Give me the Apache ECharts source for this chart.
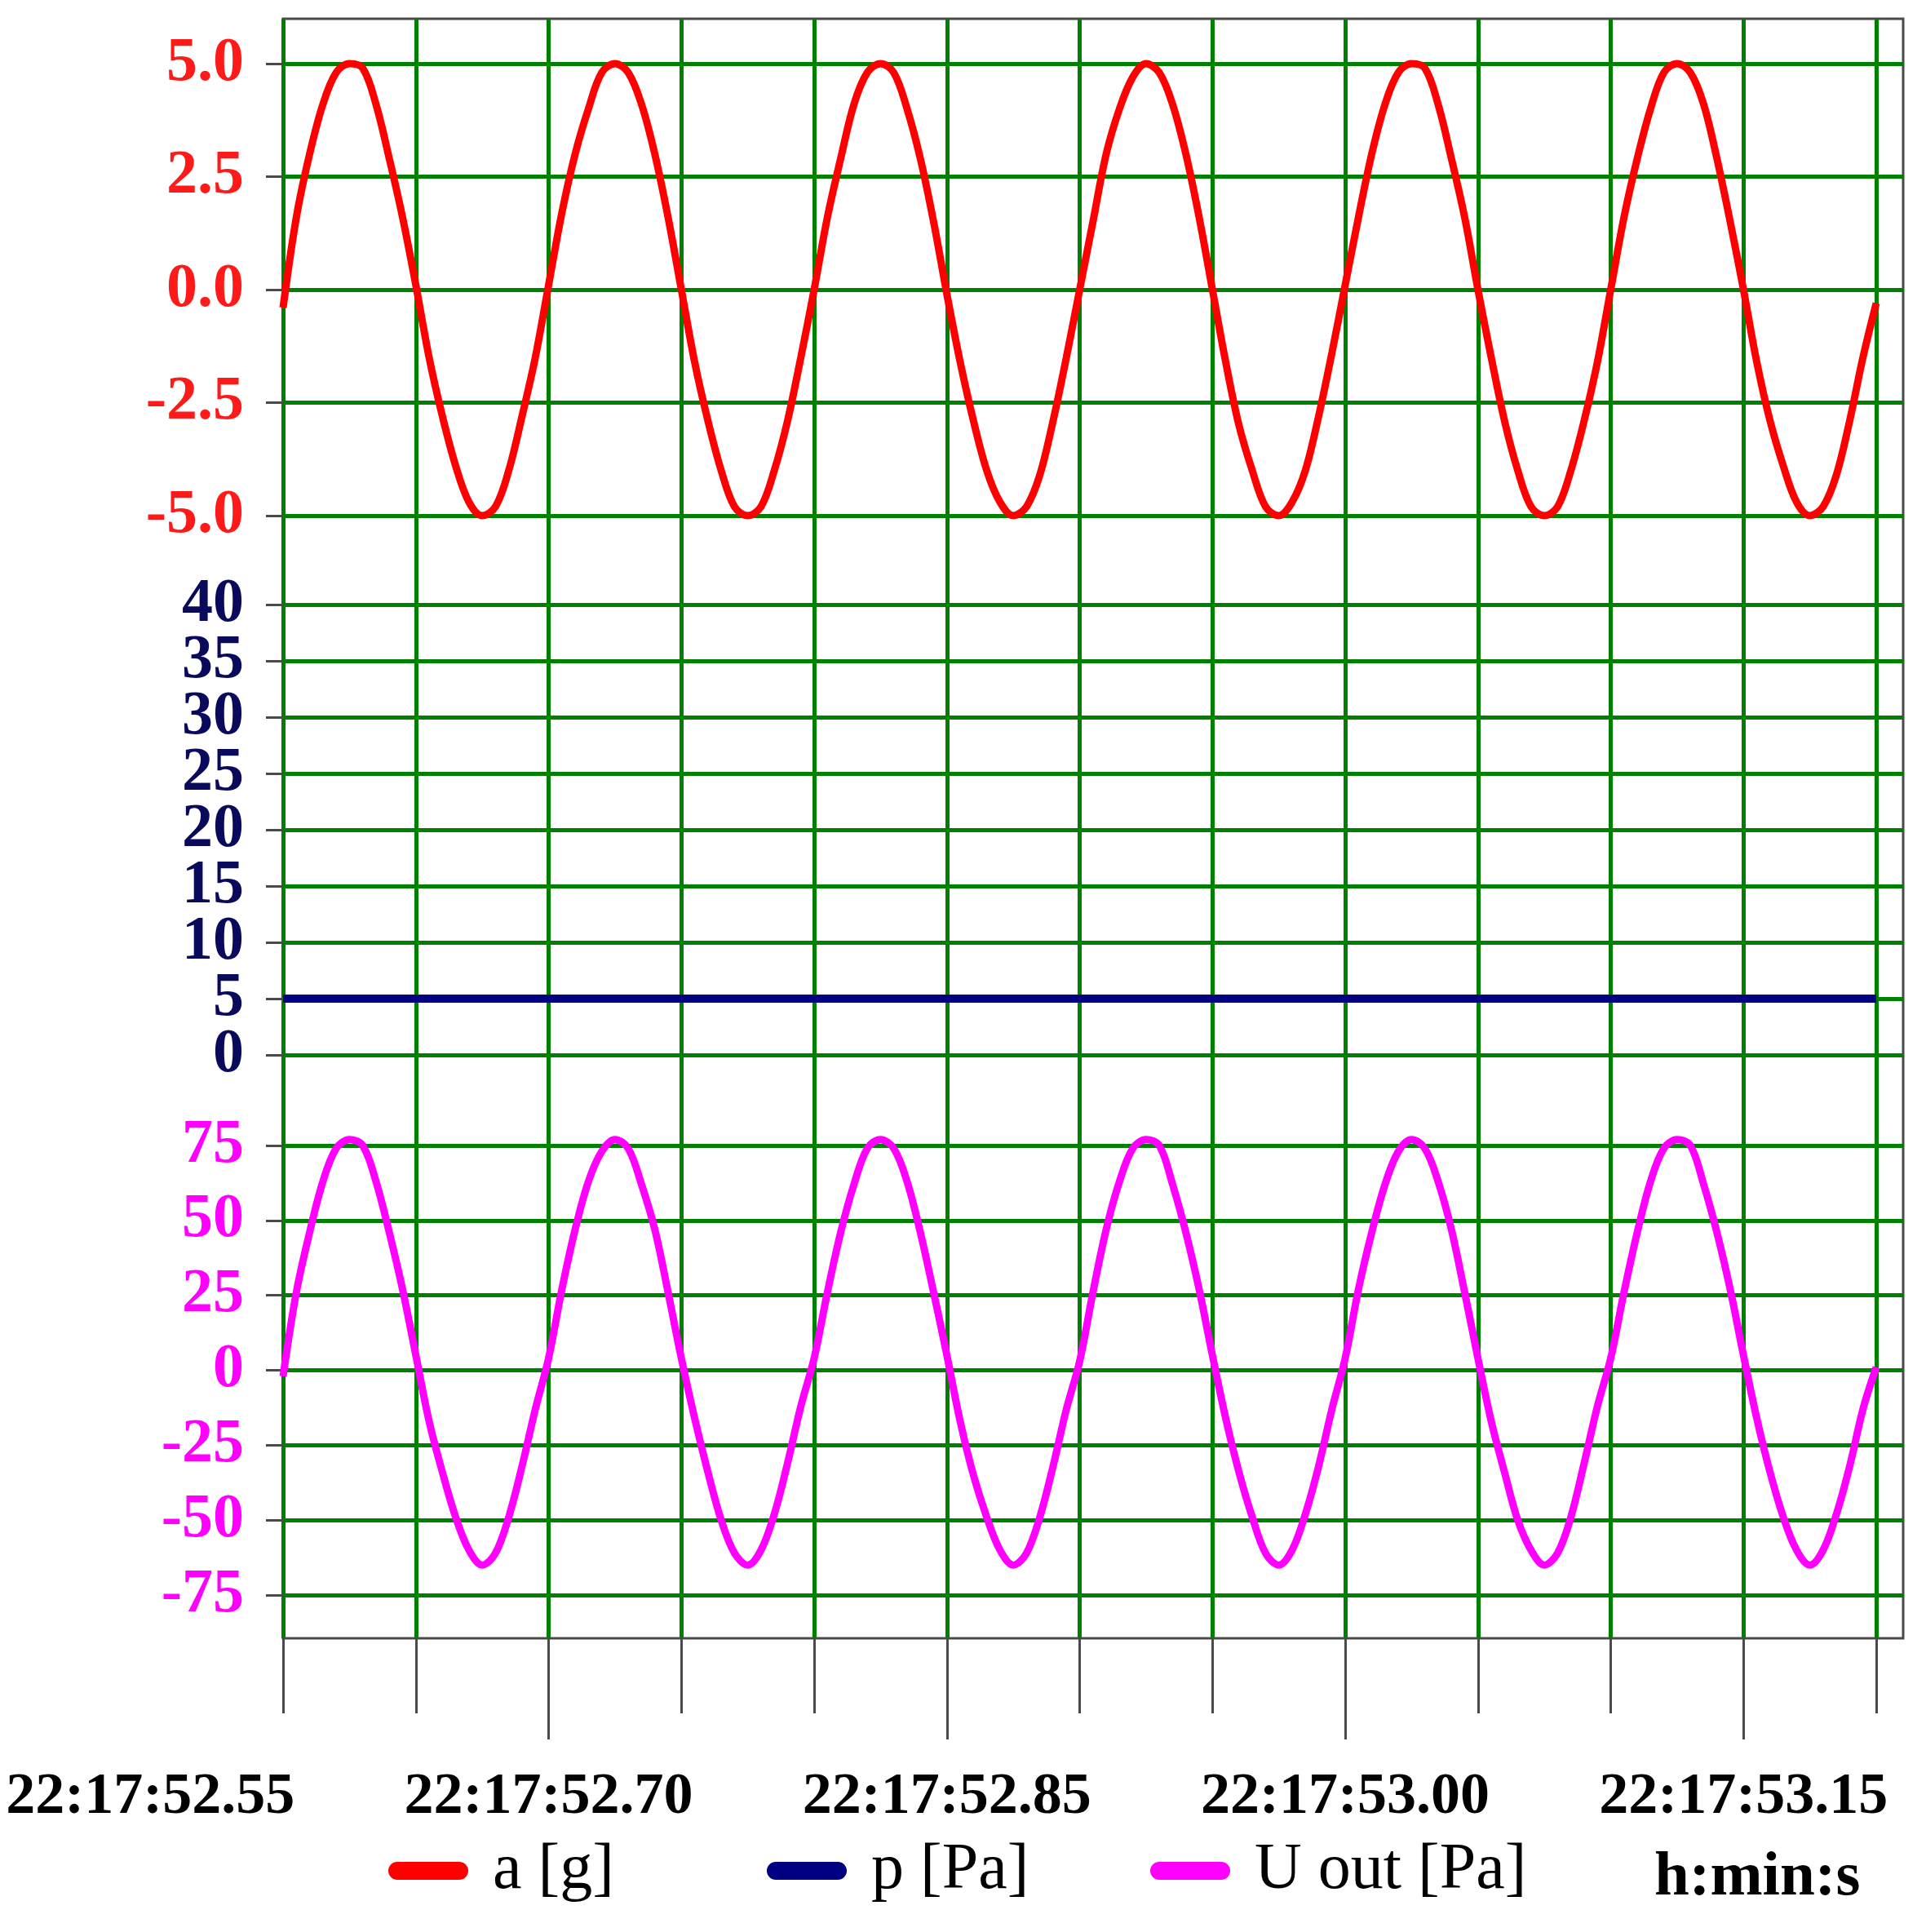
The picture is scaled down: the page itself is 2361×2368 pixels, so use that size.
<!DOCTYPE html>
<html>
<head>
<meta charset="utf-8">
<script src="https://cdn.jsdelivr.net/npm/echarts@6/dist/echarts.min.js"></script>
<style>
html,body{margin:0;padding:0;background:#fff;}
#chart{width:2361px;height:2368px;}
</style>
</head>
<body>
<div id="chart"></div>
<script>
// time of each sample, in ms after 22:17:52.55
const times = [50,55,60,65,70,75,80,85,90,95,100,105,110,115,120,125,130,135,140,145,
  150,155,160,165,170,175,180,185,190,195,200,205,210,215,220,225,230,235,240,245,
  250,255,260,265,270,275,280,285,290,295,300,305,310,315,320,325,330,335,340,345,
  350,355,360,365,370,375,380,385,390,395,400,405,410,415,420,425,430,435,440,445,
  450,455,460,465,470,475,480,485,490,495,500,505,510,515,520,525,530,535,540,545,
  550,555,560,565,570,575,580,585,590,595,600,605,610,615,620,625,630,635,640,645,650];

// a [g]
const aValues = [-0.4,1.6,3.0,4.1,4.8,5.0,4.9,4.1,2.9,1.6,0.1,-1.5,-2.8,-3.9,-4.7,-5.0,-4.8,-4.0,-2.8,-1.5,
  0.1,1.7,3.0,4.0,4.8,5.0,4.8,4.1,3.0,1.6,0.0,-1.6,-2.9,-4.0,-4.8,-5.0,-4.8,-4.0,-2.9,-1.5,
  0.0,1.6,2.9,4.1,4.8,5.0,4.8,4.0,2.9,1.5,-0.1,-1.6,-2.9,-4.0,-4.7,-5.0,-4.8,-4.1,-2.9,-1.5,
  0.0,1.5,3.0,4.0,4.7,5.0,4.8,4.1,3.0,1.6,0.0,-1.6,-3.0,-4.0,-4.8,-5.0,-4.7,-4.0,-2.8,-1.4,
  0.1,1.6,3.0,4.1,4.8,5.0,4.9,4.1,2.9,1.6,0.0,-1.5,-2.9,-4.0,-4.8,-5.0,-4.8,-4.0,-2.9,-1.6,
  0.0,1.6,2.9,4.0,4.8,5.0,4.8,4.1,2.9,1.5,0.0,-1.6,-2.9,-3.9,-4.7,-5.0,-4.8,-4.1,-2.9,-1.5,-0.3];

// p [Pa]
const pValues = [5,5,5,5,5,5,5,5,5,5,5,5,5,5,5,5,5,5,5,5,
  5,5,5,5,5,5,5,5,5,5,5,5,5,5,5,5,5,5,5,5,
  5,5,5,5,5,5,5,5,5,5,5,5,5,5,5,5,5,5,5,5,
  5,5,5,5,5,5,5,5,5,5,5,5,5,5,5,5,5,5,5,5,
  5,5,5,5,5,5,5,5,5,5,5,5,5,5,5,5,5,5,5,5,
  5,5,5,5,5,5,5,5,5,5,5,5,5,5,5,5,5,5,5,5,5];

// U out [Pa]
const uValues = [-2,26,46,63,74,77,75,63,46,27,5,-17,-34,-49,-60,-65,-61,-49,-32,-13,
  4,27,47,63,73,77,74,62,47,26,4,-16,-34,-50,-61,-65,-60,-48,-31,-12,
  4,26,46,62,74,77,74,63,46,26,5,-17,-35,-49,-60,-65,-61,-49,-32,-13,
  3,26,47,63,74,77,75,62,46,27,5,-16,-34,-49,-61,-65,-60,-48,-32,-13,
  4,27,46,62,73,77,74,63,47,26,4,-17,-34,-50,-60,-65,-61,-49,-31,-12,
  4,26,46,63,74,77,75,62,46,27,5,-16,-34,-49,-60,-65,-60,-48,-32,-13,1];

const seriesNames = ['a [g]', 'p [Pa]', 'U out [Pa]'];
const timeUnitLabel = 'h:min:s';
const labelBaseSeconds = 52.55; // label time base: 22:17:52.55

const zip = (xs, ys) => xs.map((x, i) => [x, ys[i]]);

const GREEN = '#008000';
const TICKC = '#4a4a4a';
const SERIF = "'Liberation Serif','DejaVu Serif',serif";
const pxPerMs = 3.255;
const L0 = 347;            // x of t=50
const FRAME_R = 2333;
const TOP = 23, BOT = 2008;
const tMaxFrame = 50 + (FRAME_R - L0) / pxPerMs;

const noOB = {outerBoundsMode: 'none', containLabel: false};

const grids = [
  // 0 frame
  Object.assign({left: L0, top: TOP, width: FRAME_R - L0, height: BOT - TOP, show: true,
    borderColor: TICKC, borderWidth: 3, backgroundColor: 'transparent'}, noOB),
  // 1 vertical grid lines + short ticks
  Object.assign({left: L0, top: TOP, width: 600 * pxPerMs, height: BOT - TOP}, noOB),
  // 2 long ticks
  Object.assign({left: L0 + 100 * pxPerMs, top: TOP, width: 450 * pxPerMs, height: BOT - TOP}, noOB),
  // 3 time labels
  Object.assign({left: L0 - 50 * pxPerMs, top: TOP, width: 600 * pxPerMs, height: BOT - TOP}, noOB),
  // 4 a panel
  Object.assign({left: L0, top: 78, width: FRAME_R - L0, height: 632 - 78}, noOB),
  // 5 p panel
  Object.assign({left: L0, top: 741, width: FRAME_R - L0, height: 1293 - 741}, noOB),
  // 6 U panel
  Object.assign({left: L0, top: 1404, width: FRAME_R - L0, height: 1955 - 1404}, noOB)
];

const hiddenY = (g) => ({gridIndex: g, type: 'value', show: false, min: 0, max: 1});
const hiddenX = (g) => ({gridIndex: g, type: 'value', show: false, min: 50, max: tMaxFrame});

const xAxes = [
  hiddenX(0),
  {gridIndex: 1, type: 'value', min: 50, max: 650, interval: 50, position: 'bottom',
    axisLine: {show: false}, axisTick: {show: true, length: 92, lineStyle: {color: TICKC, width: 3}},
    axisLabel: {show: false}, splitLine: {show: true, lineStyle: {color: GREEN, width: 5}}},
  {gridIndex: 2, type: 'value', min: 150, max: 600, interval: 150, position: 'bottom',
    axisLine: {show: false}, axisTick: {show: true, length: 124, lineStyle: {color: TICKC, width: 3}},
    axisLabel: {show: false}, splitLine: {show: false}},
  {gridIndex: 3, type: 'value', min: 0, max: 600, interval: 150, position: 'bottom',
    axisLine: {show: false}, axisTick: {show: false}, splitLine: {show: false},
    axisLabel: {show: true, showMinLabel: true, showMaxLabel: true, margin: 159, color: '#000',
      fontSize: 72, fontWeight: 'bold', fontFamily: SERIF,
      formatter: (v) => '22:17:' + (labelBaseSeconds + v / 1000).toFixed(2)}},
  hiddenX(4), hiddenX(5), hiddenX(6)
];

const yLabel = (color, fmt, showEnds) => ({show: true, showMinLabel: showEnds, showMaxLabel: showEnds,
  hideOverlap: false, margin: 48, color: color, fontSize: 76, fontWeight: 'bold', fontFamily: SERIF, formatter: fmt});
const yTick = {show: true, length: 21, lineStyle: {color: TICKC, width: 3}};
const yCommon = {type: 'value', position: 'left', offset: 0, axisLine: {show: false},
  axisTick: yTick, splitLine: {show: true, lineStyle: {color: GREEN, width: 5}}};

const intFmt = (v) => String(Math.round(v));
const yAxes = [
  hiddenY(0), hiddenY(1), hiddenY(2), hiddenY(3),
  // 4: a
  Object.assign({gridIndex: 4, min: -5, max: 5, interval: 2.5,
    axisLabel: yLabel('#ff1a1a', (v) => v.toFixed(1), true)}, yCommon),
  // 5: p (inner ticks; end labels come from axis 7)
  Object.assign({gridIndex: 5, min: 0, max: 40, interval: 5,
    axisLabel: yLabel('#0a0a5c', intFmt, false)}, yCommon),
  // 6: U out
  Object.assign({gridIndex: 6, min: -75, max: 75, interval: 25,
    axisLabel: yLabel('#ff00ff', intFmt, true)}, yCommon),
  // 7: p end labels (0 and 40)
  {gridIndex: 5, type: 'value', position: 'left', offset: 0, min: 0, max: 40, interval: 40,
    axisLine: {show: false}, axisTick: yTick, splitLine: {show: false},
    axisLabel: yLabel('#0a0a5c', intFmt, true)}
];

const lineSeries = (name, xi, yi, data, color, width) => ({
  name: name, type: 'line', xAxisIndex: xi, yAxisIndex: yi, data: data,
  showSymbol: false, symbol: 'none', smooth: 0.35, clip: false, z: 5,
  lineStyle: {color: color, width: width}, itemStyle: {color: color}
});

const pill = 'path://M11,0H87A11,11,0,0,1,87,22H11A11,11,0,0,1,11,0Z';
const legendAt = (name, left) => ({
  data: [name], left: left, top: 2253, padding: 0, orient: 'horizontal',
  icon: pill, itemWidth: 98, itemHeight: 22, selectedMode: false,
  itemStyle: {borderWidth: 0},
  textStyle: {fontSize: 80, fontFamily: SERIF, color: '#000', padding: [0, 0, 0, 25]}
});

const option = {
  animation: false,
  backgroundColor: '#fff',
  grid: grids,
  xAxis: xAxes,
  yAxis: yAxes,
  title: {text: timeUnitLabel, left: 2028, top: 2264, padding: 0,
    textStyle: {fontSize: 77, fontWeight: 'bold', fontFamily: SERIF, color: '#000'}},
  legend: [legendAt(seriesNames[0], 476), legendAt(seriesNames[1], 940), legendAt(seriesNames[2], 1410)],
  series: [
    lineSeries(seriesNames[0], 4, 4, zip(times, aValues), '#ff0000', 9),
    lineSeries(seriesNames[1], 5, 5, zip(times, pValues), '#000080', 10),
    lineSeries(seriesNames[2], 6, 6, zip(times, uValues), '#ff00ff', 9)
  ]
};

const chart = echarts.init(document.getElementById('chart'), null, {renderer: 'canvas'});
chart.setOption(option);
</script>
</body>
</html>
